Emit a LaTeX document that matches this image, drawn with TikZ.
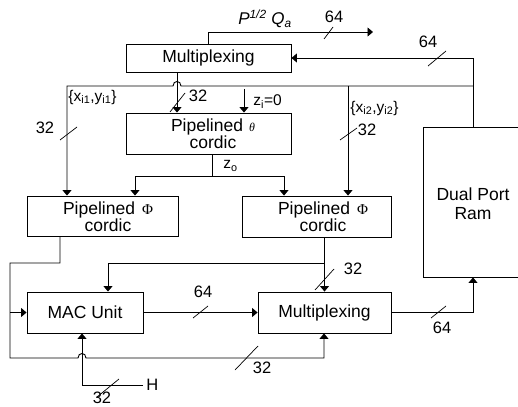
\documentclass[tikz,border=0pt]{standalone}
\usepackage{fontspec}
\setmainfont{Liberation Sans}
\newfontfamily\serifgr{Liberation Serif}
\usetikzlibrary{arrows.meta}
\begin{document}
\begin{tikzpicture}[x=1pt,y=-1pt, line width=0.9pt,
  box/.style={draw, line width=0.9pt, inner sep=0pt},
  btext/.style={inner sep=0pt, align=center, font=\fontsize{17.5}{16}\selectfont},
  arr/.style={-{Triangle[width=9pt,length=5.5pt]}},
  lbl/.style={inner sep=0pt, font=\fontsize{16.5}{16}\selectfont},
  slbl/.style={inner sep=0pt, font=\fontsize{15.5}{15}\selectfont},
  slash/.style={line width=0.7pt}]
\useasboundingbox (0,0) rectangle (518,406);
\clip (0,0) rectangle (518,406);
% boxes
\node[box, minimum width=165pt, minimum height=28pt] (mtop) at (208.5,58) {};
\node[btext] (mtopt) at (208.5,58) {Multiplexing};
\node[box, minimum width=165pt, minimum height=41pt] (theta) at (208.5,133.5) {};
\node[btext] (thetat) at (213,134) {Pipelined\hspace{6pt}{\serifgr\itshape\fontsize{12}{12}\selectfont θ}\\cordic};
\node[box, minimum width=151pt, minimum height=40pt] (phiL) at (102.5,216) {};
\node[btext, font=\fontsize{17.5}{13.5}\selectfont] (phiLt) at (108,217) {Pipelined\hspace{7pt}{\serifgr\fontsize{15}{15}\selectfont Φ}\\cordic};
\node[box, minimum width=149pt, minimum height=41pt] (phiR) at (316.5,216.5) {};
\node[btext, font=\fontsize{17.5}{13.5}\selectfont] (phiRt) at (323,217) {Pipelined\hspace{7pt}{\serifgr\fontsize{15}{15}\selectfont Φ}\\cordic};
\node[box, minimum width=100pt, minimum height=150pt] (ram) at (473,202) {};
\node[btext, font=\fontsize{17.5}{19}\selectfont] (ramt) at (473,204) {Dual Port\\Ram};
\node[box, minimum width=116pt, minimum height=41pt] (mac) at (85,312.5) {};
\node[btext] (mact) at (85,312.5) {MAC Unit};
\node[box, minimum width=133pt, minimum height=41pt] (mbot) at (324.5,312.5) {};
\node[btext] (mbott) at (324.5,312.5) {Multiplexing};
% coordinates
\coordinate (out) at (373,32);
\coordinate (mo) at (177,72);
\coordinate (zi) at (244,89);
\coordinate (zo) at (212,176);
\coordinate (H) at (143,385);
% top output
\draw[arr] (mtop.north) |- (out);
\draw[slash] (324,39) -- (333,27);
\node[lbl] (l64a) at (334,17) {64};
\node[inner sep=0pt, font=\fontsize{17}{17}\selectfont\itshape] (pq) at (265,19) {P\textsuperscript{1/2} Q\textsubscript{a}};
% ram to top mux
\draw[arr] (ram.north) |- (mtop.east);
\draw[slash] (428,66) -- (446,51);
\node[lbl] (l64b) at (428,42) {64};
% bus
\draw[arr] (ram.north |- 0,86) -- (181,86) .. controls (181,80) and (173,80) .. (173,86) -- (67,86) -- (67,0 |- phiL.north);
\draw[arr] (348,86) -- (348,0 |- phiR.north);
\node[slbl, anchor=west] (xi1) at (68,97) {\{x\textsubscript{i1},y\textsubscript{i1}\}};
\node[slbl, anchor=west] (xi2) at (350,108) {\{x\textsubscript{i2},y\textsubscript{i2}\}};
\draw[slash] (60,140) -- (77,127);
\node[lbl] (l32a) at (45,128) {32};
\draw[slash] (340,140) -- (357,128);
\node[lbl] (l32b) at (367,130) {32};
% mux to theta
\draw[arr] (mo |- mtop.south) -- (mo |- theta.north);
\draw[slash] (170,112) -- (185,93);
\node[lbl] (l32c) at (198,96) {32};
\draw[arr] (zi) -- (zi |- theta.north);
\node[slbl, anchor=west] (zil) at (253,102) {z\textsubscript{i}=0};
% theta to phi
\draw (zo |- theta.south) -- (zo);
\draw[arr] (zo) -| (135,0 |- phiL.north);
\draw[arr] (zo) -| (284,0 |- phiR.north);
\node[slbl, anchor=west] (zol) at (223,166) {z\textsubscript{o}};
% left phi output loop
\draw[arr] (60,0 |- phiL.south) -- (60,263) -- (10,263) -- (10,358) -- (78,358) .. controls (78,352) and (86,352) .. (86,358) -- (324,358) -- (324,0 |- mbot.south);
\draw[arr] (10,0 |- mac.west) -- (mac.west);
\draw[slash] (235,370) -- (258,346);
\node[lbl] (l32d) at (262,368) {32};
% right phi output
\draw[arr] (mbot.north |- phiR.south) -- (mbot.north);
\draw[arr] (mbot.north |- 0,263) -- (108,263) -- (108,0 |- mac.north);
\draw[slash] (315,290) -- (334,269);
\node[lbl] (l32e) at (353,269) {32};
% mac to mux
\draw[arr] (mac.east) -- (mbot.west);
\draw[slash] (193,318) -- (208,306);
\node[lbl] (l64c) at (203,292) {64};
% H
\draw[arr] (H) -- (82,385) -- (82,0 |- mac.south);
\node[lbl, anchor=west] (Hl) at (146,385) {H};
\draw[slash] (97,397) -- (119,379);
\node[lbl] (l32f) at (102,397.5) {32};
% mux to ram
\draw[arr] (mbot.east) -| (ram.south);
\draw[slash] (431,318) -- (446,306);
\node[lbl] (l64d) at (442,328) {64};
\end{tikzpicture}
\end{document}
